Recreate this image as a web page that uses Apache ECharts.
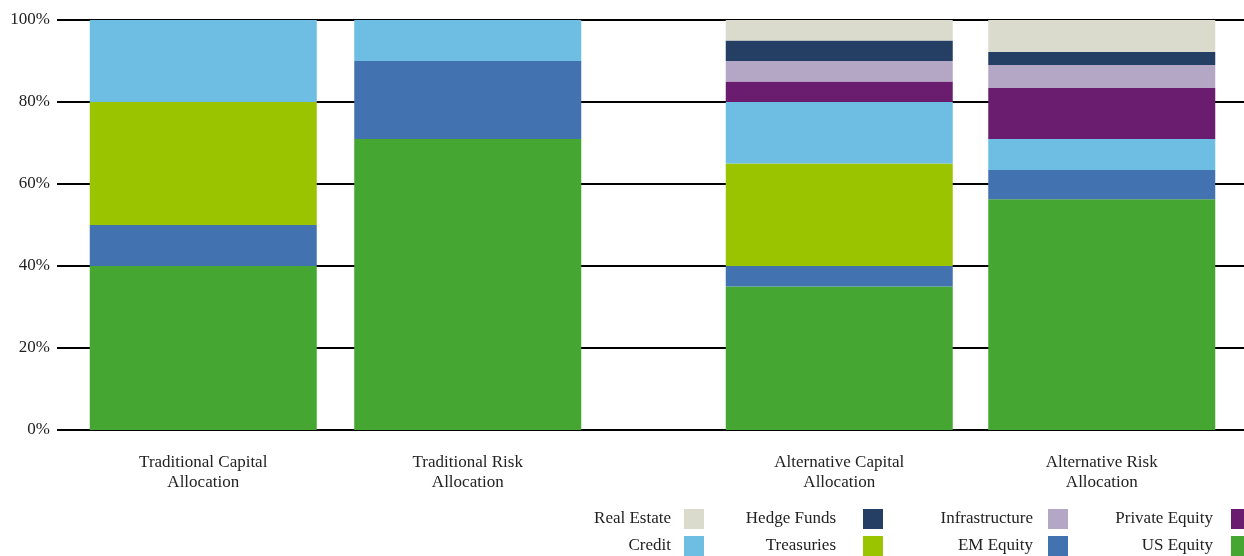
<!DOCTYPE html>
<html>
<head>
<meta charset="utf-8">
<script src="https://cdn.jsdelivr.net/npm/echarts@6/dist/echarts.min.js"></script>
<style>
  html, body { margin: 0; padding: 0; background: #ffffff; }
  #chart { width: 1244px; height: 556px; }
</style>
</head>
<body>
<div id="chart"></div>
<script>
// Portfolio allocations, in percent of the total
const categories = [
  'Traditional Capital\nAllocation',
  'Traditional Risk\nAllocation',
  'Alternative Capital\nAllocation',
  'Alternative Risk\nAllocation'
];
const usEquity       = [40, 71, 35, 56.3];
const emEquity       = [10, 19, 5, 7.1];
const treasuries     = [30, 0, 25, 0];
const credit         = [20, 10, 15, 7.6];
const privateEquity  = [0, 0, 5, 12.4];
const infrastructure = [0, 0, 5, 5.6];
const hedgeFunds     = [0, 0, 5, 3.2];
const realEstate     = [0, 0, 5, 7.8];
const yTicks = [0, 20, 40, 60, 80, 100];

const FONT = '"Liberation Serif", "DejaVu Serif", serif';

// stacking order, bottom to top
const layers = [
  { name: 'US Equity',      data: usEquity,       color: '#45A631' },
  { name: 'EM Equity',      data: emEquity,       color: '#4272B0' },
  { name: 'Treasuries',     data: treasuries,     color: '#9AC400' },
  { name: 'Credit',         data: credit,         color: '#6EBEE3' },
  { name: 'Private Equity', data: privateEquity,  color: '#6A1D6E' },
  { name: 'Infrastructure', data: infrastructure, color: '#B4A6C5' },
  { name: 'Hedge Funds',    data: hedgeFunds,     color: '#253F64' },
  { name: 'Real Estate',    data: realEstate,     color: '#DADACD' }
];

// two groups of bars, each in its own grid; a full-width grid carries the y scale
const groups = [
  { cats: categories.slice(0, 2), from: 0 },
  { cats: categories.slice(2, 4), from: 2 }
];

const series = [];
groups.forEach((g, gi) => {
  layers.forEach(l => {
    series.push({
      name: l.name,
      type: 'bar',
      stack: 'g' + gi,
      xAxisIndex: gi + 1,
      yAxisIndex: gi + 1,
      barWidth: 227,
      itemStyle: { color: l.color },
      emphasis: { disabled: true },
      data: l.data.slice(g.from, g.from + 2)
    });
  });
});

// legend laid out as four columns of two entries, swatch to the right of the text
const legendCols = [
  ['Real Estate', 'Credit'],
  ['Hedge Funds', 'Treasuries'],
  ['Infrastructure', 'EM Equity'],
  ['Private Equity', 'US Equity']
];
const legendRight = [540, 361, 176, -7];
const legendTextGap = [8, 22, 10, 13];

const legends = legendCols.map((names, i) => ({
  data: names,
  orient: 'vertical',
  align: 'right',
  right: legendRight[i],
  top: 509,
  height: 80,
  padding: 0,
  itemWidth: 20,
  itemHeight: 20,
  itemGap: 7,
  icon: 'rect',
  selectedMode: false,
  textStyle: { fontFamily: FONT, fontSize: 17, color: '#222', padding: [0, legendTextGap[i], 0, 0] }
}));

const gridTop = 20, gridBottom = 126;

const option = {
  backgroundColor: '#ffffff',
  animation: false,
  legend: legends,
  grid: [
    { left: 57, right: 0, top: gridTop, bottom: gridBottom },
    { left: 71, width: 529, top: gridTop, bottom: gridBottom },
    { left: 708, width: 525, top: gridTop, bottom: gridBottom }
  ],
  xAxis: [
    { gridIndex: 0, type: 'value', show: false, min: 0, max: 1 },
    ...groups.map((g, gi) => ({
      gridIndex: gi + 1,
      type: 'category',
      data: g.cats,
      axisLine: { show: false },
      axisTick: { show: false },
      axisLabel: {
        fontFamily: FONT, fontSize: 17, color: '#222',
        lineHeight: 20, margin: 23, interval: 0
      }
    }))
  ],
  yAxis: [
    {
      gridIndex: 0, type: 'value', min: yTicks[0], max: yTicks[yTicks.length - 1],
      interval: yTicks[1] - yTicks[0],
      axisLine: { show: false },
      axisTick: { show: false },
      splitLine: { show: true, lineStyle: { color: '#000', width: 2 } },
      axisLabel: { formatter: '{value}%', fontFamily: FONT, fontSize: 17, color: '#222', margin: 7 }
    },
    { gridIndex: 1, type: 'value', min: 0, max: 100, show: false, splitLine: { show: false } },
    { gridIndex: 2, type: 'value', min: 0, max: 100, show: false, splitLine: { show: false } }
  ],
  series: series
};

const chart = echarts.init(document.getElementById('chart'), null, { renderer: 'canvas' });
chart.setOption(option);
</script>
</body>
</html>
